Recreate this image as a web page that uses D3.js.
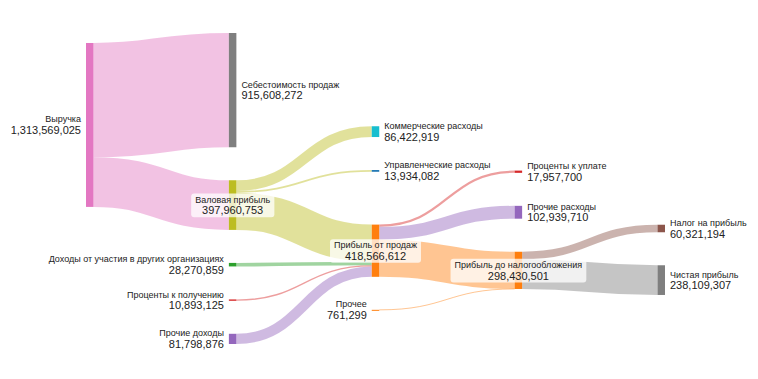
<!DOCTYPE html>
<html>
<head>
<meta charset="utf-8">
<script src="https://cdn.jsdelivr.net/npm/d3@7"></script>
<style>
  html, body { margin: 0; padding: 0; background: #fff; }
  svg { display: block; font-family: "Liberation Sans", Arial, sans-serif; }
</style>
</head>
<body>
<div id="chart"></div>
<script>
// nodes (order matters for the initial layout inside a column)
const nodeNames = [
  "Выручка",
  "Себестоимость продаж",
  "Валовая прибыль",
  "Коммерческие расходы",
  "Управленческие расходы",
  "Прибыль от продаж",
  "Доходы от участия в других организациях",
  "Проценты к получению",
  "Прочие доходы",
  "Проценты к уплате",
  "Прочие расходы",
  "Прибыль до налогообложения",
  "Прочее",
  "Налог на прибыль",
  "Чистая прибыль"
];
const nodeColors = [
  "#e377c2", "#7f7f7f", "#bcbd22", "#17becf", "#1f77b4", "#ff7f0e", "#2ca02c",
  "#d62728", "#9467bd", "#d62728", "#9467bd", "#ff7f0e", "#ff7f0e", "#8c564b", "#7f7f7f"
];

// links
const linkSources = [
  "Выручка", "Выручка",
  "Валовая прибыль", "Валовая прибыль", "Валовая прибыль",
  "Доходы от участия в других организациях", "Проценты к получению", "Прочие доходы",
  "Прибыль от продаж", "Прибыль от продаж", "Прибыль от продаж",
  "Прочее",
  "Прибыль до налогообложения", "Прибыль до налогообложения"
];
const linkTargets = [
  "Себестоимость продаж", "Валовая прибыль",
  "Коммерческие расходы", "Управленческие расходы", "Прибыль от продаж",
  "Прибыль от продаж", "Прибыль от продаж", "Прибыль от продаж",
  "Проценты к уплате", "Прочие расходы", "Прибыль до налогообложения",
  "Прибыль до налогообложения",
  "Налог на прибыль", "Чистая прибыль"
];
const linkValues = [
  915608272, 397960753,
  86422919, 13934082, 297603752,
  28270859, 10893125, 81798876,
  17957700, 102939710, 297669202,
  761299,
  60321194, 238109307
];
// which end of the link gives its colour
const linkTint = ["s", "s", "s", "s", "s", "s", "s", "s", "t", "t", "s", "s", "t", "t"];

const width = 758, height = 379;
const x0 = 86, x1 = 665, y0 = 33, y1 = 344;
const dx = 7.5, pad = 33, spread = 54, iterations = 1;

// ---- small sankey layout (d3-sankey style relaxation, center alignment) ----
function layoutSankey() {
  const nodes = nodeNames.map((name, i) => ({
    name, index: i, color: nodeColors[i], sourceLinks: [], targetLinks: []
  }));
  const byName = new Map(nodes.map(n => [n.name, n]));
  const links = linkValues.map((value, i) => ({
    index: i, value, tint: linkTint[i],
    source: byName.get(linkSources[i]), target: byName.get(linkTargets[i])
  }));
  for (const l of links) {
    l.source.sourceLinks.push(l);
    l.target.targetLinks.push(l);
  }
  for (const n of nodes) {
    n.value = Math.max(d3.sum(n.sourceLinks, l => l.value), d3.sum(n.targetLinks, l => l.value));
  }
  // depths
  let current = new Set(nodes), next = new Set(), depth = 0;
  while (current.size) {
    for (const n of current) {
      n.depth = depth;
      for (const { target } of n.sourceLinks) next.add(target);
    }
    depth++;
    current = next; next = new Set();
  }
  const nCols = d3.max(nodes, n => n.depth) + 1;
  const colX = d3.scaleLinear().domain([0, nCols - 1]).range([x0, x1 - dx]);
  const columns = Array.from({ length: nCols }, () => []);
  for (const n of nodes) {
    const c = n.targetLinks.length ? n.depth
      : n.sourceLinks.length ? d3.min(n.sourceLinks, l => l.target.depth) - 1 : 0;
    n.layer = Math.max(0, Math.min(nCols - 1, c));
    n.x0 = colX(n.layer);
    n.x1 = n.x0 + dx;
    columns[n.layer].push(n);
  }

  const py = Math.min(pad, (y1 - y0) / (d3.max(columns, c => c.length) - 1));
  const ky = d3.min(columns, c => (y1 - y0 - (c.length - 1) * py) / d3.sum(c, n => n.value));
  const byBreadth = (a, b) => a.y0 - b.y0;
  const bySource = (a, b) => byBreadth(a.source, b.source) || a.index - b.index;
  const byTarget = (a, b) => byBreadth(a.target, b.target) || a.index - b.index;

  function reorderLinks(list) {
    for (const { sourceLinks, targetLinks } of list) {
      sourceLinks.sort(byTarget);
      targetLinks.sort(bySource);
    }
  }

  for (const col of columns) {
    let y = y0;
    for (const n of col) {
      n.y0 = y;
      n.y1 = y + n.value * ky;
      y = n.y1 + py;
      for (const l of n.sourceLinks) l.width = l.value * ky;
    }
    y = (y1 - y + py) / (col.length + 1);
    col.forEach((n, i) => { n.y0 += y * (i + 1); n.y1 += y * (i + 1); });
  }
  reorderLinks(nodes);

  function targetTop(source, target) {
    let y = source.y0 - (source.sourceLinks.length - 1) * spread / 2;
    for (const { target: n, width } of source.sourceLinks) {
      if (n === target) break;
      y += width + py;
    }
    for (const { source: n, width } of target.targetLinks) {
      if (n === source) break;
      y -= width;
    }
    return y;
  }
  function sourceTop(source, target) {
    let y = target.y0 - (target.targetLinks.length - 1) * spread / 2;
    for (const { source: n, width } of target.targetLinks) {
      if (n === source) break;
      y += width + py;
    }
    for (const { target: n, width } of source.sourceLinks) {
      if (n === target) break;
      y -= width;
    }
    return y;
  }
  function downFrom(col, y, i, alpha) {
    for (; i < col.length; ++i) {
      const n = col[i];
      const d = (y - n.y0) * alpha;
      if (d > 1e-6) { n.y0 += d; n.y1 += d; }
      y = n.y1 + py;
    }
  }
  function upFrom(col, y, i, alpha) {
    for (; i >= 0; --i) {
      const n = col[i];
      const d = (n.y1 - y) * alpha;
      if (d > 1e-6) { n.y0 -= d; n.y1 -= d; }
      y = n.y0 - py;
    }
  }
  function resolveCollisions(col, alpha) {
    const i = col.length >> 1;
    const s = col[i];
    upFrom(col, s.y0 - py, i - 1, alpha);
    downFrom(col, s.y1 + py, i + 1, alpha);
    upFrom(col, y1, col.length - 1, alpha);
    downFrom(col, y0, 0, alpha);
  }

  for (let it = 0; it < iterations; ++it) {
    const alpha = Math.pow(0.99, it);
    const beta = Math.max(1 - alpha, (it + 1) / iterations);
    // right to left
    for (let i = nCols - 2; i >= 0; --i) {
      const col = columns[i];
      const moves = col.map(s => {
        let y = 0, w = 0;
        for (const { target, value } of s.sourceLinks) {
          const v = value * (target.layer - s.layer);
          y += sourceTop(s, target) * v;
          w += v;
        }
        return w > 0 ? (y / w - s.y0) * alpha : 0;
      });
      col.forEach((s, k) => { s.y0 += moves[k]; s.y1 += moves[k]; });
      col.sort(byBreadth);
      resolveCollisions(col, beta);
      reorderLinks(nodes);
    }
    // left to right
    for (let i = 1; i < nCols; ++i) {
      const col = columns[i];
      const moves = col.map(t => {
        let y = 0, w = 0;
        for (const { source, value } of t.targetLinks) {
          const v = value * (t.layer - source.layer);
          y += targetTop(source, t) * v;
          w += v;
        }
        return w > 0 ? (y / w - t.y0) * alpha : 0;
      });
      col.forEach((t, k) => { t.y0 += moves[k]; t.y1 += moves[k]; });
      col.sort(byBreadth);
      resolveCollisions(col, beta);
      reorderLinks(nodes);
    }
  }

  for (const n of nodes) {
    let a = n.y0, b = n.y0;
    for (const l of n.sourceLinks) { l.y0 = a + l.width / 2; a += l.width; }
    for (const l of n.targetLinks) { l.y1 = b + l.width / 2; b += l.width; }
  }
  return { nodes, links };
}

const { nodes, links } = layoutSankey();
const fmt = d3.format(",");

const svg = d3.select("#chart")
  .append("svg")
  .attr("width", width)
  .attr("height", height)
  .attr("viewBox", `0 0 ${width} ${height}`);

svg.append("rect").attr("width", width).attr("height", height).attr("fill", "#fff");

const linkPath = d3.linkHorizontal()
  .source(d => [d.source.x1, d.y0])
  .target(d => [d.target.x0, d.y1]);

svg.append("g")
  .attr("fill", "none")
  .selectAll("path")
  .data(links)
  .join("path")
  .attr("d", linkPath)
  .attr("stroke", d => d.tint === "t" ? d.target.color : d.source.color)
  .attr("stroke-opacity", 0.45)
  .attr("stroke-width", d => Math.max(1, d.width));

svg.append("g")
  .selectAll("rect")
  .data(nodes)
  .join("rect")
  .attr("x", d => d.x0)
  .attr("y", d => d.y0)
  .attr("width", d => d.x1 - d.x0)
  .attr("height", d => Math.max(1, d.y1 - d.y0))
  .attr("fill", d => d.color);

// labels: left of pure sources, right of pure sinks, centred (with a box) for the rest
const labels = svg.append("g")
  .selectAll("g")
  .data(nodes)
  .join("g")
  .attr("transform", d => {
    const cy = (d.y0 + d.y1) / 2;
    if (!d.targetLinks.length) return `translate(${d.x0 - 5},${cy})`;
    if (!d.sourceLinks.length) return `translate(${d.x1 + 5},${cy})`;
    return `translate(${(d.x0 + d.x1) / 2},${cy})`;
  });

const mid = d => d.targetLinks.length && d.sourceLinks.length;

labels.filter(mid).append("rect").attr("class", "bg");

const text = labels.append("text")
  .attr("fill", "#222")
  .attr("text-anchor", d => !d.targetLinks.length ? "end" : !d.sourceLinks.length ? "start" : "middle");

text.append("tspan")
  .attr("x", 0)
  .attr("y", -5.7)
  .attr("dy", "0.35em")
  .attr("font-size", 9)
  .text(d => d.name);

text.append("tspan")
  .attr("x", 0)
  .attr("y", 5.3)
  .attr("dy", "0.35em")
  .attr("font-size", 11)
  .text(d => fmt(d.value));

labels.filter(mid).each(function () {
  const g = d3.select(this);
  const bb = g.select("text").node().getBBox();
  g.select("rect.bg")
    .attr("x", bb.x - 4)
    .attr("y", bb.y - 1)
    .attr("width", bb.width + 8)
    .attr("height", bb.height + 2)
    .attr("rx", 3)
    .attr("fill", "#fff")
    .attr("fill-opacity", 0.75);
});
</script>
</body>
</html>
